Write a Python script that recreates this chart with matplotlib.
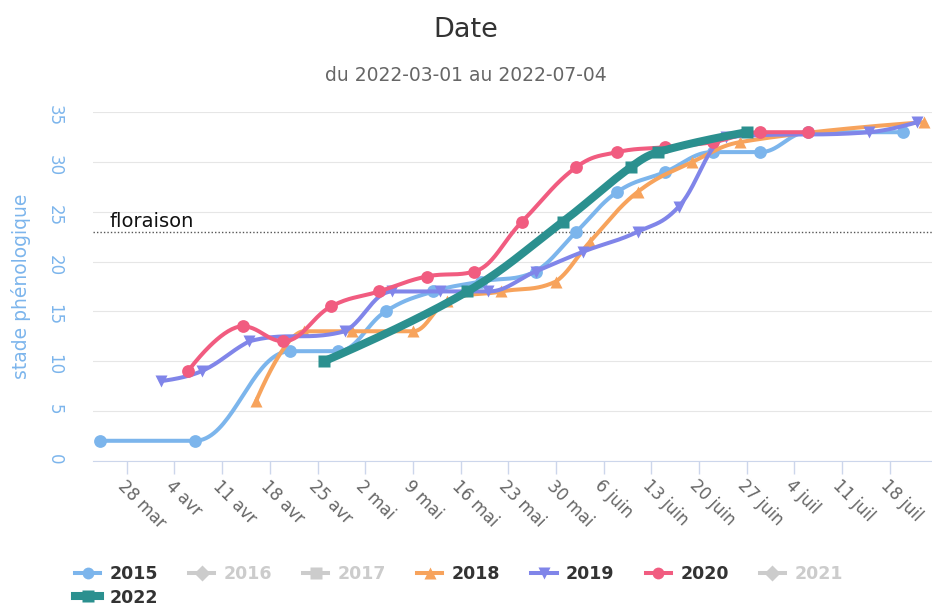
import numpy as np
import matplotlib
matplotlib.use("Agg")
import matplotlib.pyplot as plt
import matplotlib.dates as mdates
from matplotlib.lines import Line2D
from matplotlib.ticker import FuncFormatter, MultipleLocator

plt.rcParams['font.family'] = ['DejaVu Sans']

# --- data (all years placed on the 2022 calendar) ---
dates_2015 = ["2022-03-24", "2022-04-07", "2022-04-21", "2022-04-28", "2022-05-05",
              "2022-05-12", "2022-05-19", "2022-05-27", "2022-06-02", "2022-06-08",
              "2022-06-15", "2022-06-22", "2022-06-29", "2022-07-06", "2022-07-20"]
stade_2015 = [2, 2, 11, 11, 15, 17, 18, 19, 23, 27, 29, 31, 31, 33, 33]

dates_2018 = ["2022-04-16", "2022-04-23", "2022-04-30", "2022-05-09", "2022-05-14",
              "2022-05-22", "2022-05-30", "2022-06-04", "2022-06-11", "2022-06-19",
              "2022-06-26", "2022-07-23"]
stade_2018 = [6, 13, 13, 13, 16, 17, 18, 22, 27, 30, 32, 34]

dates_2019 = ["2022-04-02", "2022-04-08", "2022-04-15", "2022-04-29", "2022-05-06",
              "2022-05-13", "2022-05-20", "2022-05-27", "2022-06-03", "2022-06-11",
              "2022-06-17", "2022-06-24", "2022-07-15", "2022-07-22"]
stade_2019 = [8, 9, 12, 13, 17, 17, 17, 19, 21, 23, 25.5, 32.5, 33, 34]

dates_2020 = ["2022-04-06", "2022-04-14", "2022-04-20", "2022-04-27", "2022-05-04",
              "2022-05-11", "2022-05-18", "2022-05-25", "2022-06-02", "2022-06-08",
              "2022-06-15", "2022-06-22", "2022-06-29", "2022-07-06"]
stade_2020 = [9, 13.5, 12, 15.5, 17, 18.5, 19, 24, 29.5, 31, 31.5, 32, 33, 33]

dates_2022 = ["2022-04-26", "2022-05-17", "2022-05-31", "2022-06-10", "2022-06-14",
              "2022-06-27"]
stade_2022 = [10, 17, 24, 29.5, 31, 33]

years = ["2015", "2016", "2017", "2018", "2019", "2020", "2021", "2022"]
visible = {"2015": (dates_2015, stade_2015), "2018": (dates_2018, stade_2018),
           "2019": (dates_2019, stade_2019), "2020": (dates_2020, stade_2020),
           "2022": (dates_2022, stade_2022)}

floraison = 23
mois = ["janv", "févr", "mar", "avr", "mai", "juin", "juil", "août", "sept", "oct", "nov", "déc"]

colors = {"2015": "#7cb5ec", "2016": "#434348", "2017": "#90ed7d", "2018": "#f7a35c",
          "2019": "#8085e9", "2020": "#f15c80", "2021": "#e4d354", "2022": "#2b908f"}
markers = {"2015": "o", "2016": "D", "2017": "s", "2018": "^", "2019": "v",
           "2020": "o", "2021": "D", "2022": "s"}


def spline(x, y, smoothing=1.5, n=40):
    """Highcharts-like spline: cubic bezier through each point."""
    x = np.asarray(x, float)
    y = np.asarray(y, float)
    lx, ly, rx, ry = x.copy(), y.copy(), x.copy(), y.copy()
    d = smoothing + 1
    for i in range(1, len(x) - 1):
        px, py = x[i], y[i]
        ax_, ay = x[i - 1], y[i - 1]
        bx, by = x[i + 1], y[i + 1]
        lcx, lcy = (smoothing * px + ax_) / d, (smoothing * py + ay) / d
        rcx, rcy = (smoothing * px + bx) / d, (smoothing * py + by) / d
        corr = 0.0
        if rcx != lcx:
            corr = (rcy - lcy) * (rcx - px) / (rcx - lcx) + py - rcy
        lcy += corr
        rcy += corr
        if lcy > ay and lcy > py:
            lcy = max(ay, py); rcy = 2 * py - lcy
        elif lcy < ay and lcy < py:
            lcy = min(ay, py); rcy = 2 * py - lcy
        if rcy > by and rcy > py:
            rcy = max(by, py); lcy = 2 * py - rcy
        elif rcy < by and rcy < py:
            rcy = min(by, py); lcy = 2 * py - rcy
        lx[i], ly[i], rx[i], ry[i] = lcx, lcy, rcx, rcy
    t = np.linspace(0, 1, n)
    xs, ys = [x[0]], [y[0]]
    for i in range(1, len(x)):
        p0 = (x[i - 1], y[i - 1]); p1 = (rx[i - 1], ry[i - 1])
        p2 = (lx[i], ly[i]); p3 = (x[i], y[i])
        b = [(1 - t) ** 3, 3 * (1 - t) ** 2 * t, 3 * (1 - t) * t ** 2, t ** 3]
        xs.extend((b[0] * p0[0] + b[1] * p1[0] + b[2] * p2[0] + b[3] * p3[0])[1:])
        ys.extend((b[0] * p0[1] + b[1] * p1[1] + b[2] * p2[1] + b[3] * p3[1])[1:])
    return np.array(xs), np.array(ys)


fig = plt.figure(figsize=(9.32, 6.06), dpi=100)
ax = fig.add_axes([92.7 / 932, (606 - 460.7) / 606, (932 - 92.7) / 932, 348.4 / 606])

for k, yr in enumerate(years):
    if yr not in visible:
        continue
    dts, vals = visible[yr]
    xn = mdates.date2num(np.array(dts, dtype="datetime64[D]"))
    lw = 5.8 if yr == "2022" else 2.9
    ms = 9.0 if yr == "2022" else 9.2
    xs, ys = spline(xn, vals)
    ax.plot(xs, ys, color=colors[yr], lw=lw, solid_capstyle="round",
            zorder=3 + k, clip_on=False)
    ax.plot(xn, vals, ls="none", marker=markers[yr], ms=ms, color=colors[yr],
            mec="none", zorder=3 + k, clip_on=False)

ax.axhline(floraison, color="#555555", lw=1, ls=(0, (1, 1.5)), zorder=2)
ax.text(110, 606 - 227.3, "floraison", transform=None, fontsize=14, color="#111111")

start = mdates.date2num(np.datetime64("2022-03-28"))
ax.set_xlim(start - 5.0, start + 118.2)
ax.set_ylim(0, 35)

ax.xaxis.set_major_locator(mdates.WeekdayLocator(byweekday=mdates.MO))
ax.xaxis.set_major_formatter(FuncFormatter(
    lambda v, p: "%d %s" % (mdates.num2date(v).day, mois[mdates.num2date(v).month - 1])))
ax.yaxis.set_major_locator(MultipleLocator(5))

ax.grid(axis="y", color="#e6e6e6", lw=0.8, zorder=0)
ax.set_axisbelow(True)
for s in ["top", "right", "left"]:
    ax.spines[s].set_visible(False)
ax.spines["bottom"].set_color("#ccd6eb")
ax.spines["bottom"].set_linewidth(0.8)

ax.tick_params(axis="x", length=9.5, width=1, color="#ccd6eb", pad=2,
               labelsize=12, labelcolor="#666666")
ax.tick_params(axis="y", length=0, pad=21, labelsize=12, labelcolor="#7cb5ec")
for lab in ax.get_xticklabels():
    lab.set_rotation(-45)
    lab.set_ha("left")
    lab.set_va("top")
    lab.set_rotation_mode("anchor")
for lab in ax.get_yticklabels():
    lab.set_rotation(270)

ax.set_ylabel("stade phénologique", fontsize=13.5, color="#7cb5ec", va="center", ha="center")
ax.yaxis.set_label_coords((21 - 92.7) / 839.3, 0.5)

fig.text(466 / 932, 1 - 36.7 / 606, "Date", ha="center", va="baseline",
         fontsize=19.5, color="#333333")
fig.text(466 / 932, 1 - 81 / 606, "du 2022-03-01 au 2022-07-04", ha="center",
         va="baseline", fontsize=13.5, color="#666666")

# legend (row-major order for 7 columns)
handles = {}
for yr in years:
    c = colors[yr] if yr in visible else "#cccccc"
    lw = 5.8 if yr == "2022" else 2.9
    handles[yr] = Line2D([], [], color=c, lw=lw, marker=markers[yr], ms=8.5, mec="none")
order = ["2015", "2022", "2016", "2017", "2018", "2019", "2020", "2021"]
leg = fig.legend([handles[y] for y in order], order, loc="upper left",
                 bbox_to_anchor=(75 / 932, 1 - 565 / 606), ncol=7, frameon=False,
                 handlelength=1.45, handletextpad=0.55, columnspacing=1.78,
                 labelspacing=0.32, borderaxespad=0, borderpad=0,
                 prop=dict(weight="bold", size=12.5))
for txt, yr in zip(leg.get_texts(), order):
    txt.set_color("#333333" if yr in visible else "#cccccc")

fig.savefig("out.png", dpi=100)
